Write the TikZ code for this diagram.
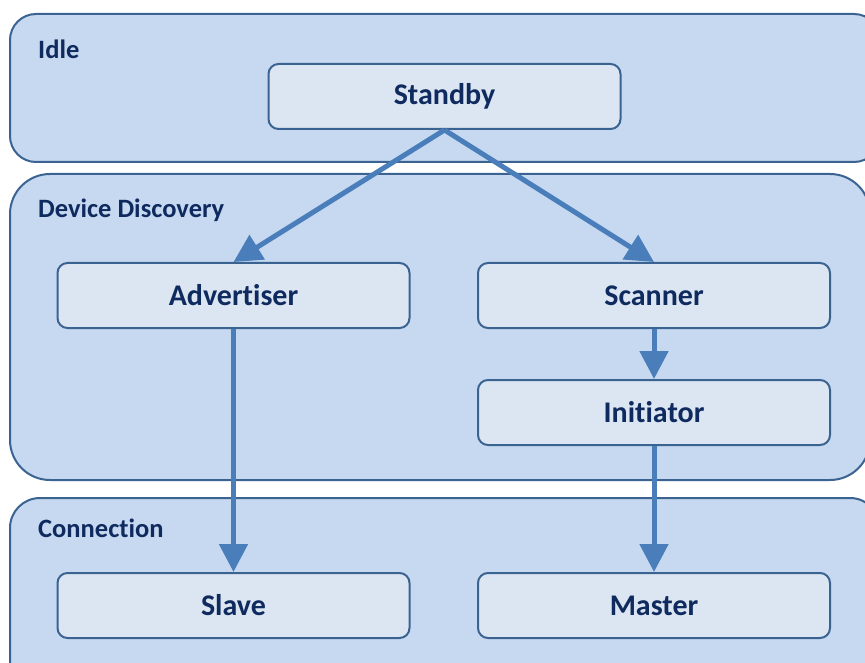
\documentclass[tikz,border=0pt]{standalone}
\usepackage{fontspec}
\setmainfont{Carlito}[Ligatures={TeX,NoCommon}]
\usetikzlibrary{arrows.meta}
\definecolor{groupfill}{HTML}{C6D9F0}
\definecolor{statefill}{HTML}{DCE6F2}
\definecolor{edge}{HTML}{3B6392}
\definecolor{flow}{HTML}{4A7EBB}
\definecolor{ink}{HTML}{0E2A5E}
\begin{document}
\begin{tikzpicture}[x=1pt,y=-1pt,
  group/.style={draw=edge,line width=2pt,fill=groupfill},
  grouplabel/.style={anchor=west,text=ink,font=\bfseries\fontsize{26.5}{31}\selectfont,inner sep=0pt},
  state/.style={draw=edge,line width=2pt,fill=statefill,rounded corners=10pt,
    minimum width=352pt,minimum height=65pt,text=ink,
    font=\bfseries\fontsize{30}{35}\selectfont},
  flowarrow/.style={draw=flow,line width=5pt,
    -{Triangle[length=28pt,width=28pt]},shorten <=0pt}]
\useasboundingbox (0,0) rectangle (865,663);
\begin{scope}
\clip (0,0) rectangle (865,663);
% phase containers (they run off the right edge)
\draw[group,rounded corners=26pt] (10,14) rectangle (880,162);
\draw[group,rounded corners=40pt] (10,174) rectangle (870,480);
\draw[group,rounded corners=30pt] (10,498) rectangle (880,700);
\end{scope}
\node[grouplabel] (lidle) at (38,49) {Idle};
\node[grouplabel] (ldisc) at (38,210) {Device Discovery};
\node[grouplabel] (lconn) at (38,528) {Connection};
% states
\node[state] (standby) at (444.5,96.5) {Standby};
\node[state] (adv) at (233.5,295.5) {Advertiser};
\node[state] (scan) at (654,295.5) {Scanner};
\node[state] (init) at (654,412.5) {Initiator};
\node[state] (slave) at (233.5,605.5) {Slave};
\node[state] (master) at (654,605.5) {Master};
% transitions
\draw[flowarrow] (standby.south) -- (adv.north);
\draw[flowarrow] (standby.south) -- (scan.north);
\draw[flowarrow] (adv.south) -- (slave.north);
\draw[flowarrow] (scan.south) -- (init.north);
\draw[flowarrow] (init.south) -- (master.north);
\end{tikzpicture}
\end{document}
